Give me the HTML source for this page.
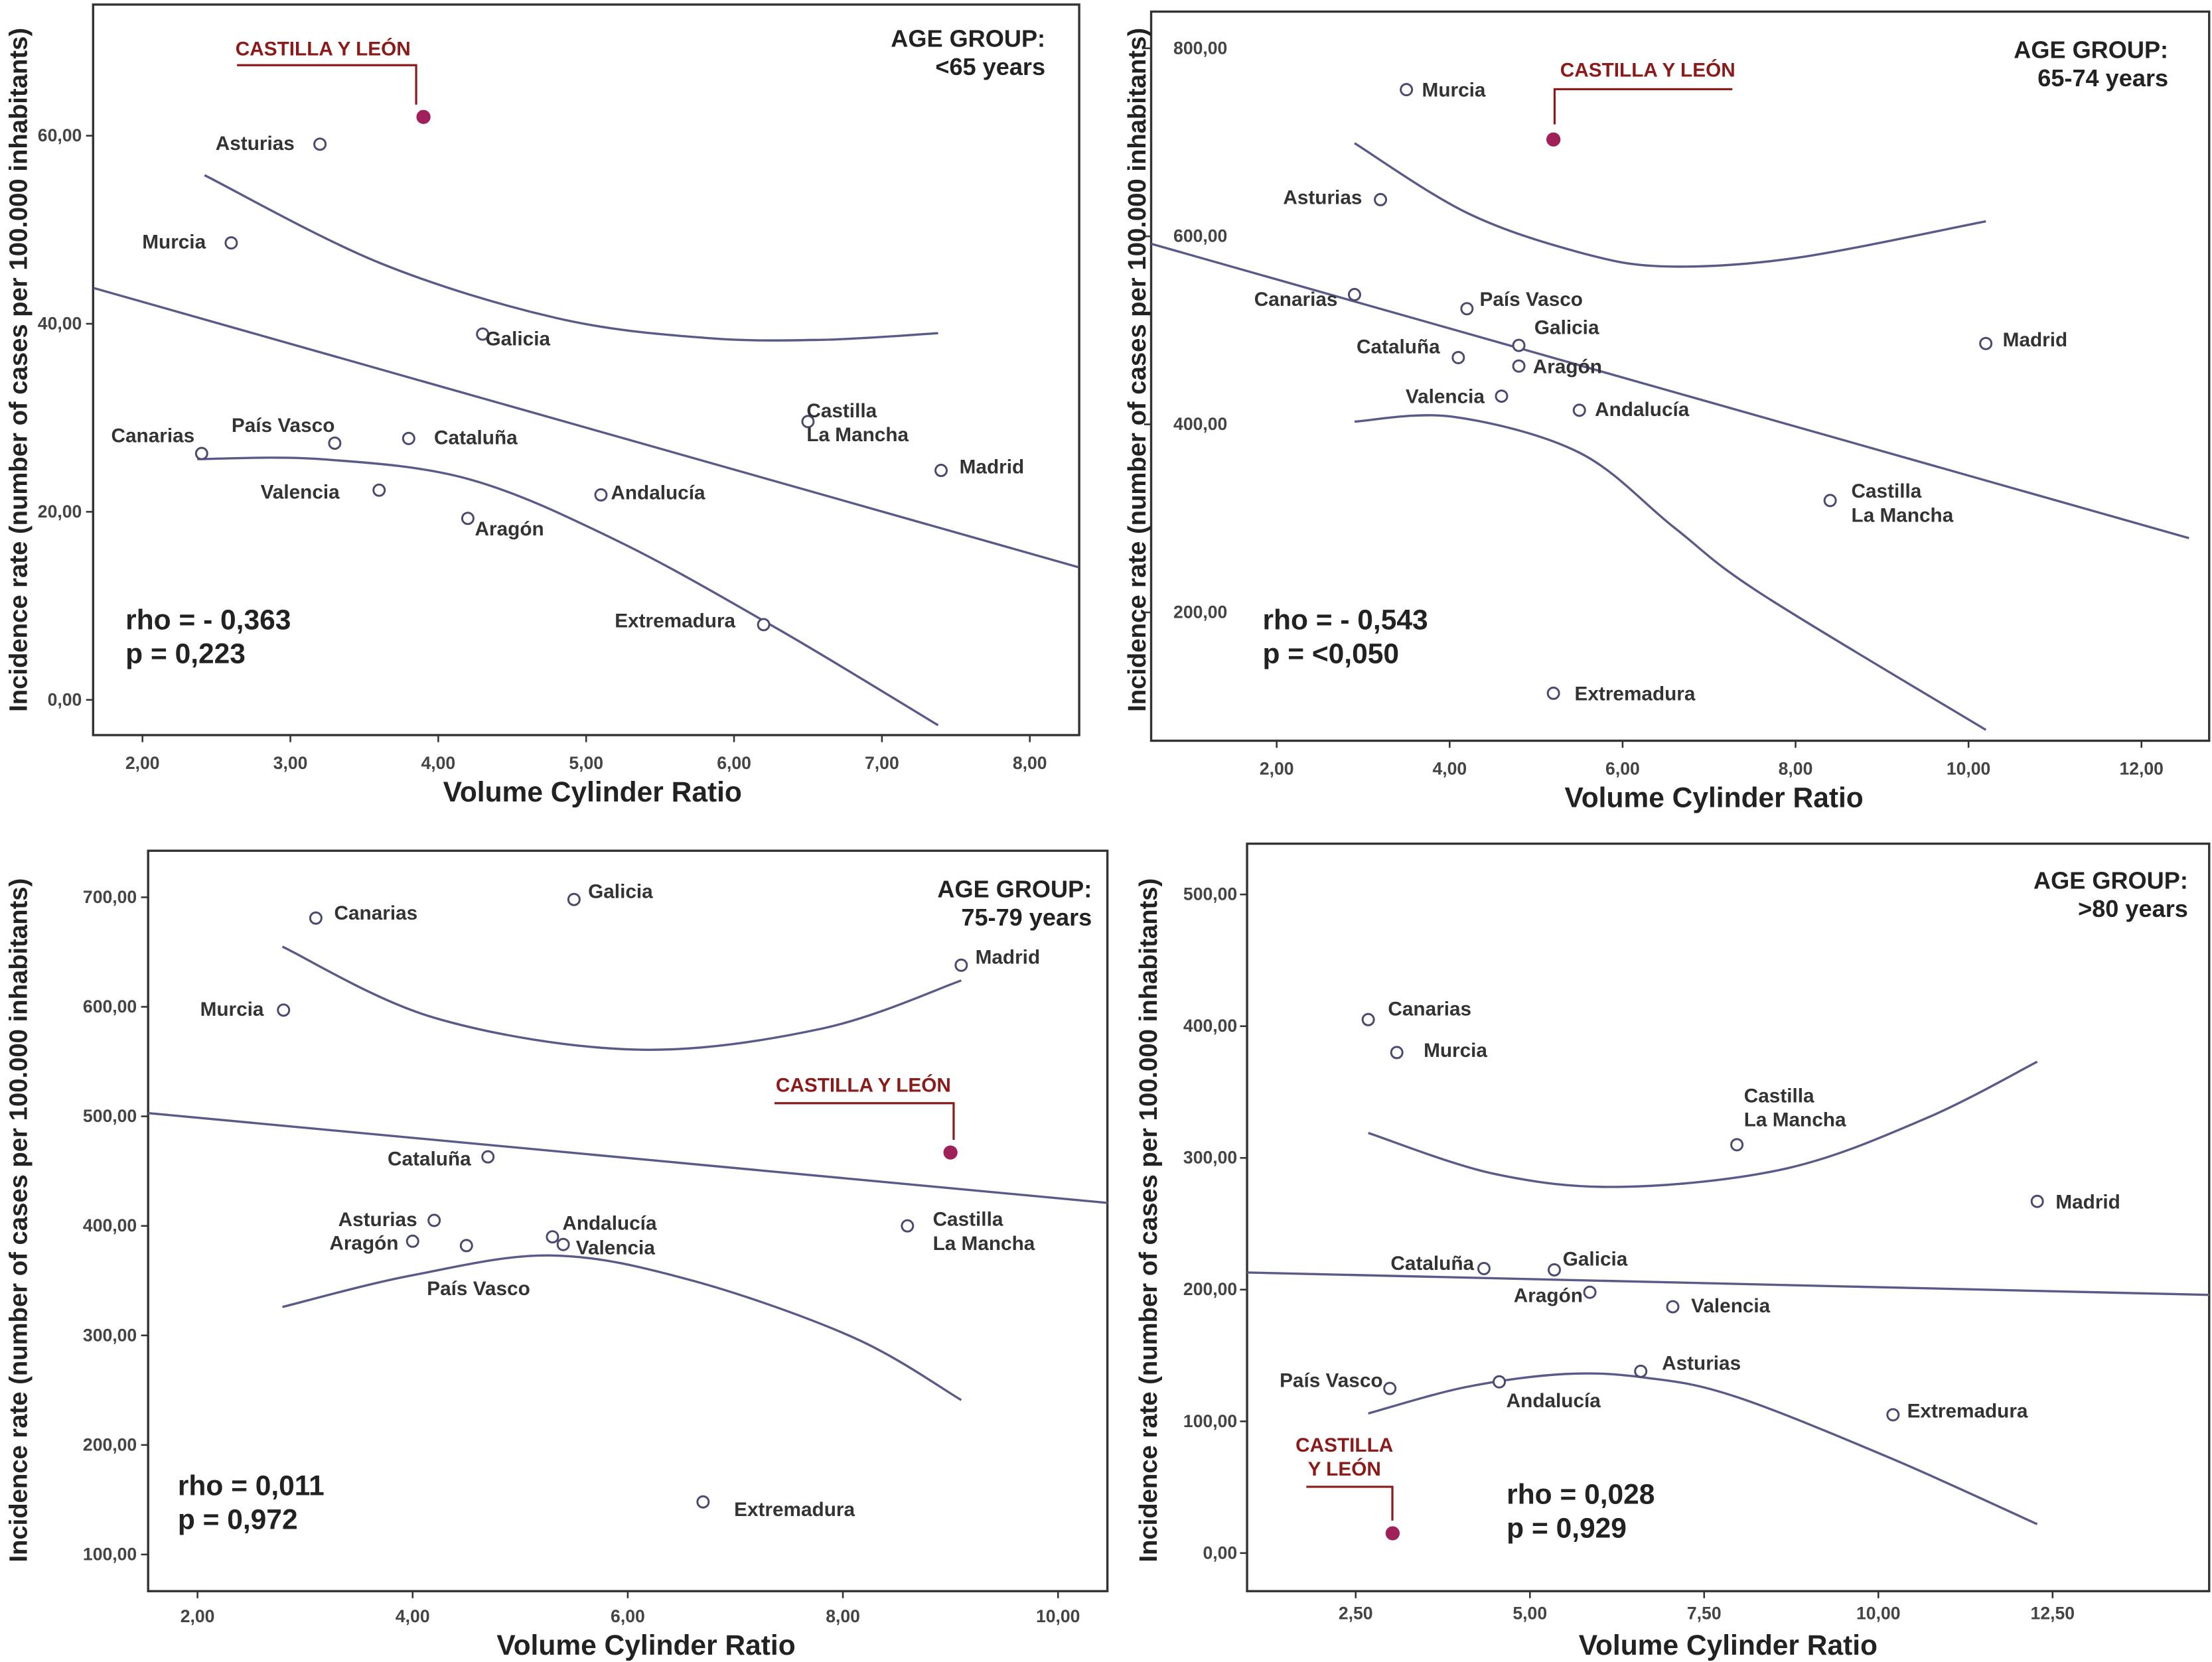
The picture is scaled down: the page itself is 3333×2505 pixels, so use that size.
<!DOCTYPE html>
<html><head><meta charset="utf-8"><style>
html,body{margin:0;padding:0;background:#fff;}
svg{display:block;font-family:"Liberation Sans",Arial,sans-serif;}
</style></head><body>
<svg id="chart" width="3333" height="2505" viewBox="0 0 1568 1178" xmlns="http://www.w3.org/2000/svg"></svg>
<script>
// ---- Panel 1 data (<65 years)
const p1Names = ["Asturias","Murcia","Galicia","Canarias","País Vasco","Cataluña","Valencia","Aragón","Andalucía","Castilla|La Mancha","Madrid","Extremadura"];
const p1X = [3.2,2.6,4.3,2.4,3.3,3.8,3.6,4.2,5.1,6.5,7.4,6.2];
const p1Y = [59.1,48.6,38.9,26.2,27.3,27.8,22.3,19.3,21.8,29.6,24.4,8.0];
const p1CyL = [3.9,62.0];
const p1Fit = [[1.67,43.8],[8.33,14.1]];
const p1Upper = [[2.42,55.8],[3.6,46.5],[4.8,40.6],[5.8,38.5],[6.6,38.3],[7.38,39.0]];
const p1Lower = [[2.37,25.6],[3.2,25.6],[4.2,23.5],[5.2,17.0],[6.3,7.5],[7.38,-2.7]];
const p1XTicks = [2,3,4,5,6,7,8];
const p1YTicks = [0,20,40,60];
// ---- Panel 2 data (65-74 years)
const p2Names = ["Murcia","Asturias","Canarias","País Vasco","Cataluña","Galicia","Aragón","Valencia","Andalucía","Madrid","Castilla|La Mancha","Extremadura"];
const p2X = [3.5,3.2,2.9,4.2,4.1,4.8,4.8,4.6,5.5,10.2,8.4,5.2];
const p2Y = [756,639,538,523,471,484,462,430,415,486,319,114];
const p2CyL = [5.2,703];
const p2Fit = [[0.55,592],[12.55,279]];
const p2Upper = [[2.9,699],[4.2,625],[5.5,583],[6.5,568],[8.0,577],[10.2,616]];
const p2Lower = [[2.9,403],[4.04,408],[5.5,370],[6.6,290],[7.6,220],[10.2,75]];
const p2XTicks = [2,4,6,8,10,12];
const p2YTicks = [200,400,600,800];
// ---- Panel 3 data (75-79 years)
const p3Names = ["Canarias","Galicia","Madrid","Murcia","Cataluña","Asturias","Aragón","País Vasco","Andalucía","Valencia","Castilla|La Mancha","Extremadura"];
const p3X = [3.1,5.5,9.1,2.8,4.7,4.2,4.0,4.5,5.3,5.4,8.6,6.7];
const p3Y = [681,698,638,597,463,405,386,382,390,383,400,148];
const p3CyL = [9.0,467];
const p3Fit = [[1.54,503],[10.46,421]];
const p3Upper = [[2.79,655],[4.2,590],[6.07,561],[7.8,580],[9.1,624]];
const p3Lower = [[2.79,326],[4.0,355],[5.3,373],[6.6,350],[8.1,298],[9.1,241]];
const p3XTicks = [2,4,6,8,10];
const p3YTicks = [100,200,300,400,500,600,700];
// ---- Panel 4 data (>80 years)
const p4Names = ["Canarias","Murcia","Castilla|La Mancha","Madrid","Cataluña","Galicia","Aragón","Valencia","País Vasco","Andalucía","Asturias","Extremadura"];
const p4X = [2.68,3.09,7.97,12.28,4.34,5.35,5.86,7.05,2.99,4.56,6.59,10.21];
const p4Y = [405,380,310,267,216,215,198,187,125,130,138,105];
const p4CyL = [3.03,15];
const p4Fit = [[0.94,213],[14.75,196]];
const p4Upper = [[2.68,319],[4.48,288],[6.32,278],[8.68,292],[10.68,330],[12.28,373]];
const p4Lower = [[2.68,106],[4.08,126],[5.51,136],[6.68,133],[7.94,119],[10.18,72],[12.28,22]];
const p4XTicks = [2.5,5,7.5,10,12.5];
const p4YTicks = [0,100,200,300,400,500];

// ---- layout (not data)
const panels = [
 {names:p1Names,xs:p1X,ys:p1Y,cyl:p1CyL,fit:p1Fit,up:p1Upper,lo:p1Lower,xt:p1XTicks,yt:p1YTicks,
  box:[66,3,765,521],xa:[2,101,8,730],ya:[0,496,60,96],xlabY:545,ylabX:58,ytitle:[13,262],xtitle:[420,568],
  stats:[89,446,"rho = - 0,363","p = 0,223"],age:[741,33,"<65 years"],
  lab:[[-18,4,"end"],[-18,4,"end"],[2,8,"start"],[-5,-8,"end"],[0,-8,"end"],[18,4,"start"],[-28,6,"end"],[5,12,"start"],[7,3,"start"],[-1,-3,"start"],[13,2,"start"],[-20,2,"end"]],
  cylLab:{lines:["CASTILLA Y LEÓN"],cx:229,y:39,path:"M168,46 L295,46 L295,74"}},
 {names:p2Names,xs:p2X,ys:p2Y,cyl:p2CyL,fit:p2Fit,up:p2Upper,lo:p2Lower,xt:p2XTicks,yt:p2YTicks,
  box:[816,8,1566,525],xa:[2,905,12,1518],ya:[200,434,800,34],xlabY:549,ylabX:870,ytitle:[806,262],xtitle:[1215,572],
  stats:[895,446,"rho = - 0,543","p = <0,050"],age:[1537,41,"65-74 years"],
  lab:[[11,5,"start"],[-13,3,"end"],[-12,8,"end"],[9,-2,"start"],[-13,-3,"end"],[11,-8,"start"],[10,5,"start"],[-12,5,"end"],[11,4,"start"],[12,2,"start"],[15,-2,"start"],[15,5,"start"]],
  cylLab:{lines:["CASTILLA Y LEÓN"],cx:1168,y:54,path:"M1228,63 L1102,63 L1102,88"}},
 {names:p3Names,xs:p3X,ys:p3Y,cyl:p3CyL,fit:p3Fit,up:p3Upper,lo:p3Lower,xt:p3XTicks,yt:p3YTicks,
  box:[105,603,785,1128],xa:[2,140,10,750],ya:[100,1102,700,636],xlabY:1150,ylabX:97,ytitle:[13,865],xtitle:[458,1173],
  stats:[126,1060,"rho = 0,011","p = 0,972"],age:[774,636,"75-79 years"],
  lab:[[13,1,"start"],[10,-1,"start"],[10,-1,"start"],[-14,4,"end"],[-12,6,"end"],[-12,4,"end"],[-10,6,"end"],[-28,35,"start"],[7,-5,"start"],[9,7,"start"],[18,0,"start"],[22,10,"start"]],
  cylLab:{lines:["CASTILLA Y LEÓN"],cx:612,y:774,path:"M549,782 L676,782 L676,808"}},
 {names:p4Names,xs:p4X,ys:p4Y,cyl:p4CyL,fit:p4Fit,up:p4Upper,lo:p4Lower,xt:p4XTicks,yt:p4YTicks,
  box:[884,598,1566,1128],xa:[2.5,961,12.5,1455],ya:[0,1101,500,634],xlabY:1148,ylabX:877,ytitle:[814,865],xtitle:[1225,1173],
  stats:[1068,1066,"rho = 0,028","p = 0,929"],age:[1551,630,">80 years"],
  lab:[[14,-3,"start"],[19,3,"start"],[5,-30,"start"],[13,5,"start"],[-7,1,"end"],[6,-3,"start"],[-5,7,"end"],[13,4,"start"],[-5,-1,"end"],[5,18,"start"],[15,-1,"start"],[10,2,"start"]],
  cylLab:{lines:["CASTILLA","Y LEÓN"],cx:953,y:1029,path:"M926,1054 L987,1054 L987,1078"}}
];
const NS="http://www.w3.org/2000/svg";
const svg=document.getElementById('chart');
function mk(tag,attrs,parent){const e=document.createElementNS(NS,tag);for(const k in attrs)e.setAttribute(k,attrs[k]);(parent||svg).appendChild(e);return e;}
function fmt(v){return v.toFixed(2).replace('.',',');}
function spline(pts){
  let d="M"+pts[0][0].toFixed(1)+","+pts[0][1].toFixed(1);
  for(let i=0;i<pts.length-1;i++){
    const p0=pts[Math.max(0,i-1)],p1=pts[i],p2=pts[i+1],p3=pts[Math.min(pts.length-1,i+2)];
    const c1=[p1[0]+(p2[0]-p0[0])/6,p1[1]+(p2[1]-p0[1])/6];
    const c2=[p2[0]-(p3[0]-p1[0])/6,p2[1]-(p3[1]-p1[1])/6];
    d+=" C"+c1.map(v=>v.toFixed(1)).join(",")+" "+c2.map(v=>v.toFixed(1)).join(",")+" "+p2[0].toFixed(1)+","+p2[1].toFixed(1);
  }
  return d;
}
panels.forEach((P,pi)=>{
  const g=mk('g',{});
  
  
  const sx=v=>P.xa[1]+(v-P.xa[0])*(P.xa[3]-P.xa[1])/(P.xa[2]-P.xa[0]);
  const sy=v=>P.ya[1]+(v-P.ya[0])*(P.ya[3]-P.ya[1])/(P.ya[2]-P.ya[0]);
  const [x0,y0,x1,y1]=P.box;
  const fr=mk('rect',{x:x0,y:y0,width:x1-x0,height:y1-y0,fill:'none',stroke:'#333',"stroke-width":1.6},g);
  
  
  P.xt.forEach(t=>{
    const x=sx(t);
    mk('line',{x1:x,x2:x,y1:y1,y2:y1+5,stroke:'#333',"stroke-width":1.2},g);
    const tx=mk('text',{x:x,y:P.xlabY,"text-anchor":'middle',"font-size":12.5,fill:'#444',"font-weight":'bold'},g);
    tx.textContent=fmt(t);
    
    
  });
  P.yt.forEach(t=>{
    const y=sy(t);
    mk('line',{x1:x0-5,x2:x0,y1:y,y2:y,stroke:'#333',"stroke-width":1.2},g);
    const tx=mk('text',{x:P.ylabX,y:y+4,"text-anchor":'end',"font-size":12.5,fill:'#444',"font-weight":'bold'},g);
    tx.textContent=fmt(t);
    
    
  });
  const fl=mk('line',{x1:sx(P.fit[0][0]),y1:sy(P.fit[0][1]),x2:sx(P.fit[1][0]),y2:sy(P.fit[1][1]),stroke:'#5a5a88',"stroke-width":1.6},g);
  
  
  [P.up,P.lo].forEach((c,ci)=>{
    const pts=c.map(p=>[sx(p[0]),sy(p[1])]);
    const pa=mk('path',{d:spline(pts),fill:'none',stroke:'#5a5a88',"stroke-width":1.6},g);
    
    
  });
  P.xs.forEach((xv,i)=>{
    const cx=sx(xv),cy=sy(P.ys[i]);
    const c=mk('circle',{cx:cx,cy:cy,r:4,fill:'#fff',stroke:'#4a4a70',"stroke-width":1.4},g);
    
    
    const L=P.lab[i];
    const lines=P.names[i].split('|');
    lines.forEach((ln,li)=>{
      const t=mk('text',{x:cx+L[0],y:cy+L[1]+li*17,"text-anchor":L[2],"font-size":14,"font-weight":'bold',fill:'#333'},g);
      t.textContent=ln;
      
      
    });
  });
  const cc=mk('circle',{cx:sx(P.cyl[0]),cy:sy(P.cyl[1]),r:4.5,fill:'#a0205a',stroke:'#a0205a'},g);
  
  
  const br=mk('path',{d:P.cylLab.path,fill:'none',stroke:'#8b1a1a',"stroke-width":1.5},g);
  
  
  P.cylLab.lines.forEach((ln,li)=>{
    const t=mk('text',{x:P.cylLab.cx,y:P.cylLab.y+li*17,"text-anchor":'middle',"font-size":14,"font-weight":'bold',fill:'#8b1a1a'},g);
    t.textContent=ln;
    
    
  });
  [P.stats[2],P.stats[3]].forEach((s,si)=>{
    const t=mk('text',{x:P.stats[0],y:P.stats[1]+si*24,"font-size":20,"font-weight":'bold',fill:'#222'},g);
    t.textContent=s;
    
    
  });
  ["AGE GROUP:",P.age[2]].forEach((s,si)=>{
    const t=mk('text',{x:P.age[0],y:P.age[1]+si*20,"text-anchor":'end',"font-size":17,"font-weight":'bold',fill:'#222'},g);
    t.textContent=s;
    
    
  });
  const xt=mk('text',{x:P.xtitle[0],y:P.xtitle[1],"text-anchor":'middle',"font-size":20,"font-weight":'bold',fill:'#222'},g);
  xt.textContent="Volume Cylinder Ratio";
  
  
  const yt=mk('text',{x:0,y:0,"text-anchor":'middle',"font-size":18,"font-weight":'bold',fill:'#222',transform:`translate(${P.ytitle[0]+6},${P.ytitle[1]}) rotate(-90)`},g);
  yt.textContent="Incidence rate (number of cases per 100.000 inhabitants)";
  
  
});
</script>
</body></html>
